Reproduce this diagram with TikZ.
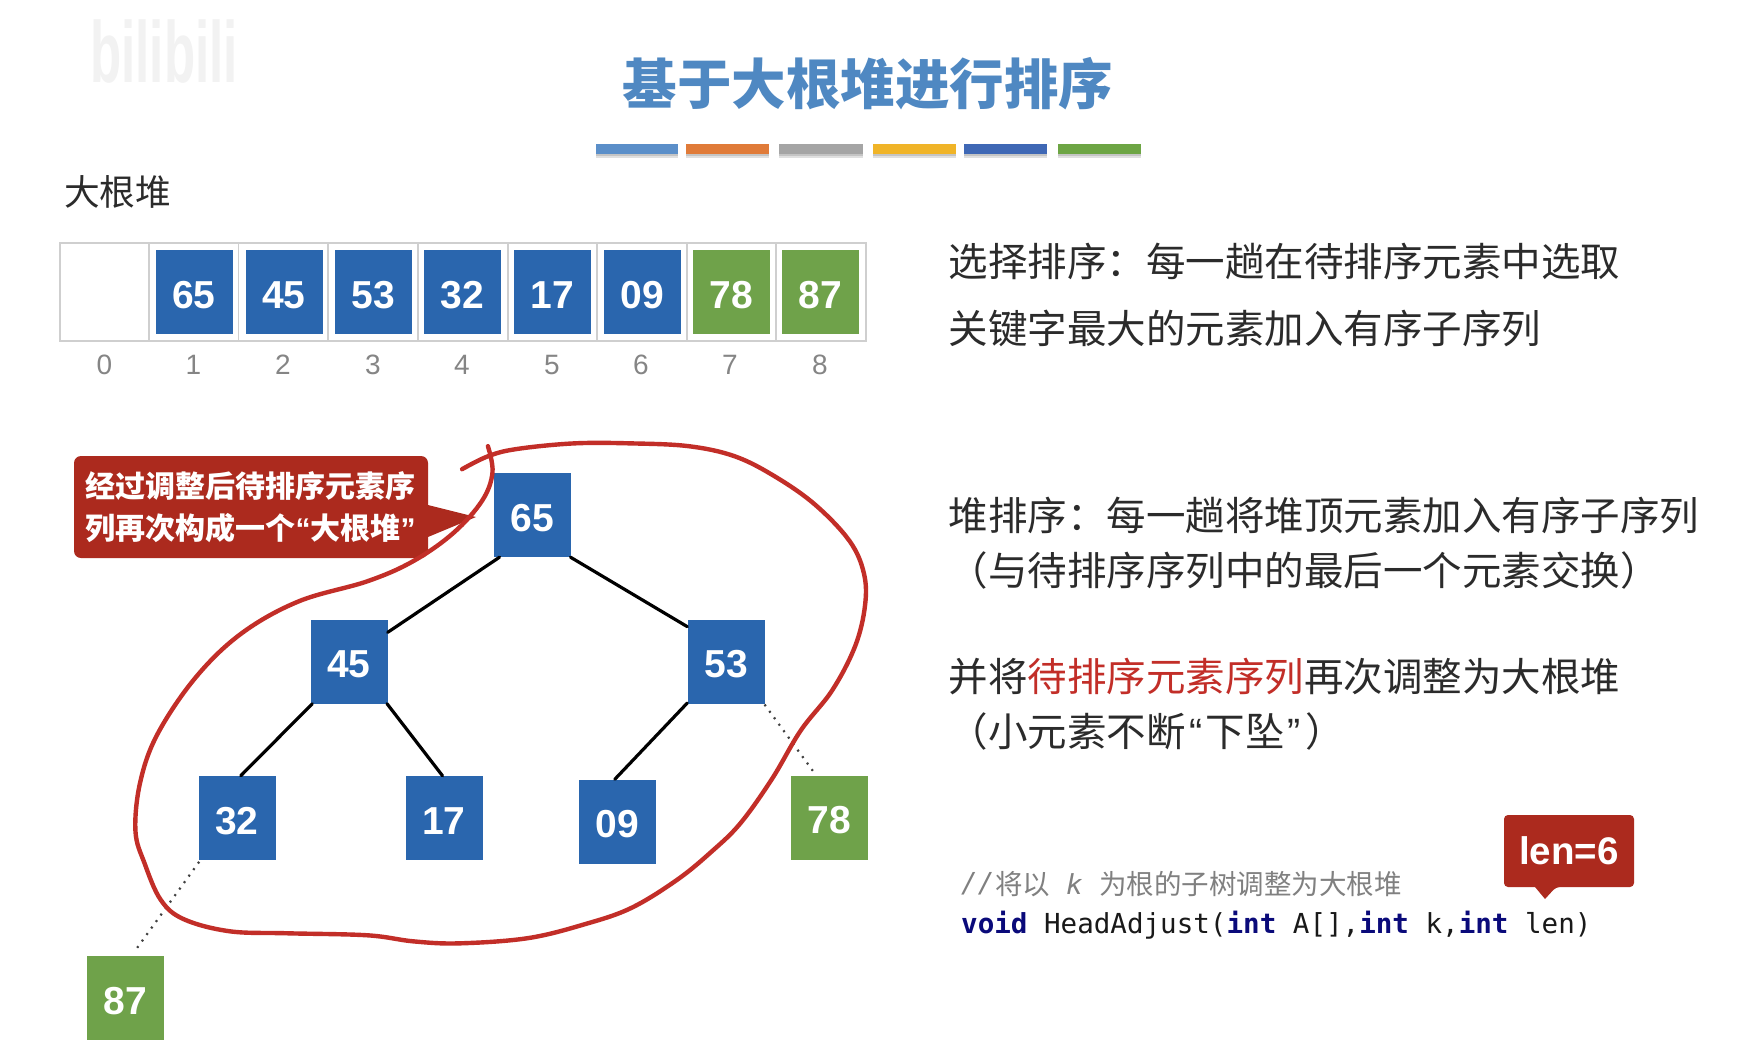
\documentclass[tikz,border=0pt]{standalone}
\usepackage{fontspec}
\setmainfont{Liberation Sans}
\newfontfamily\cjk{Noto Sans CJK SC}
\newfontfamily\lat{Liberation Sans}
\newfontfamily\codefont{DejaVu Sans Mono}
\definecolor{boxblue}{HTML}{2A66AE}
\definecolor{boxgreen}{HTML}{6FA24A}
\definecolor{calloutred}{HTML}{AC2A1E}
\definecolor{penred}{HTML}{C22E28}
\definecolor{titleblue}{HTML}{4F88C2}
\definecolor{txt}{HTML}{2B2B2B}
\definecolor{gridline}{HTML}{CFCFCF}
\definecolor{kw}{HTML}{0A0A7A}
\newcommand{\fs}[1]{\fontsize{#1}{#1}\selectfont}
\newcommand{\qL}{{\lat “}}
\newcommand{\qR}{{\lat ”}}
\newcommand{\wqL}{{\lat\kern4pt “\kern3pt}}
\newcommand{\wqR}{{\lat\kern3pt ”\kern4pt}}
\newcommand{\nm}[1]{\raisebox{-16pt}[0pt][0pt]{#1}}
\tikzset{
  x=1pt,y=-1pt,
  num/.style={font=\lat\bfseries\fs{39},text=white,minimum width=77pt,minimum height=84pt,inner sep=0pt,anchor=center},
  blue box/.style={num,fill=boxblue},
  green box/.style={num,fill=boxgreen},
  idx/.style={font=\lat\fs{28},text=black!48,inner sep=0pt},
  slot/.style={draw=gridline,line width=1.2pt,fill=white},
  say/.style={font=\cjk\fs{39.5},text=txt,anchor=west,inner sep=0pt},
  edge/.style={line width=3.2pt,black,line cap=round},
  dots/.style={line width=2.2pt,black!75,dash pattern=on 2pt off 6pt},
}
\begin{document}
\begin{tikzpicture}
\useasboundingbox (0,0) rectangle (1743,1052);
\fill[white] (0,0) rectangle (1743,1052);

% watermark
\node[font=\lat\bfseries\fs{51},text=black!5,inner sep=0pt,yscale=1.7,transform shape] (mark) at (164,52) {bilibili};

% title
\node[font=\cjk\bfseries\fs{54.5},text=titleblue,inner sep=0pt] (title) at (868,84) {基于大根堆进行排序};
\foreach \xa/\xb/\c in {596/678/5B8FC9,686/769/E07B39,779/863/A5A5A5,873/956/F0B428,964/1047/3F68B5,1058/1141/6DA544}{
  \definecolor{barc}{HTML}{\c}
  \fill[black,opacity=.12] (\xa,148) rectangle (\xb,158);
  \fill[black,opacity=.12] (\xa,146) rectangle (\xb,156);
  \fill[barc] (\xa,144) rectangle (\xb,154);
}
\node[font=\cjk\fs{35.7},text=txt,inner sep=0pt,anchor=west] (heaplabel) at (64,192) {大根堆};

% array
\foreach \xa/\xb in {60/149,149/238.5,238.5/328,328/418,418/508,508/597,597/687,687/776,776/866}
  \draw[slot] (\xa,243) rectangle (\xb,341);
\foreach \cx/\t/\s in {194/65/blue box,284/45/blue box,373.5/53/blue box,462.5/32/blue box,552.5/17/blue box,642.5/09/blue box,731.5/78/green box,820.5/87/green box}
  \node[\s] (a\t) at (\cx,292) {\nm{\t}};
\foreach \cx/\t in {104.5/0,193.5/1,283/2,373/3,462/4,552/5,641/6,730/7,820/8}
  \node[idx] (i\t) at (\cx,365) {\t};

% tree nodes
\node[blue box] (n65) at (532.5,515) {\nm{65}};
\node[blue box] (n45) at (349,661.5) {\nm{45}};
\node[blue box] (n53) at (726,661.5) {\nm{53}};
\node[blue box] (n32) at (237,818) {\nm{32}};
\node[blue box] (n17) at (444,818) {\nm{17}};
\node[blue box] (n09) at (617,821.5) {\nm{09}};
\node[green box] (n78) at (829,817.5) {\nm{78}};
\node[green box] (n87) at (125.5,998) {\nm{87}};

\draw[edge] (n65.232) -- (n45.37);
\draw[edge] (n65.-48) -- (n53.138);
\draw[edge] (n45.229) -- (n32.85);
\draw[edge] (n45.-48) -- (n17.92);
\draw[edge] (n53.227) -- (n09.93);
\draw[dots,shorten >=3pt,shorten <=1pt] (n53.-48) -- (n78.107);
\draw[dots,shorten >=8pt,shorten <=2pt] (n32.229) -- (n87.82);

% callout
\fill[calloutred,rounded corners=7pt]
  (250,456) -- (428,456) [sharp corners] -- (428,505) -- (476,517) -- (428,537)
  [rounded corners=7pt] -- (428,558) -- (74,558) -- (74,456) -- cycle;
\node[font=\cjk\bfseries\fs{30},text=white,inner sep=0pt,anchor=west] (c1) at (85.5,486) {经过调整后待排序元素序};
\node[font=\cjk\bfseries\fs{30},text=white,inner sep=0pt,anchor=west] (c2) at (85.5,528) {列再次构成一个\qL 大根堆\qR};

% hand-drawn ring
\begin{scope}[shift={(0,420)},x=.574pt,y=-.4032pt]
\draw[penred,line width=4.4pt,line cap=round,line join=round] plot[smooth,tension=.6] coordinates {
(805,122)(850,90)(900,72)(1000,58)(1100,58)(1200,65)(1280,90)(1350,140)(1420,210)(1480,300)(1505,380)(1507,460)(1490,560)(1450,670)(1395,770)(1345,890)(1290,1000)(1240,1070)(1180,1140)(1100,1210)(1020,1250)(920,1285)(800,1298)(720,1293)(640,1278)(500,1273)(400,1268)(320,1238)(280,1190)(252,1100)(236,1020)(244,900)(274,780)(340,640)(420,530)(520,450)(640,400)(720,350)(790,280)(840,200)(858,130)(850,65)};
\end{scope}

% right text
\node[say] (t1) at (948.5,261) {选择排序：每一趟在待排序元素中选取};
\node[say] (t2) at (948.5,328) {关键字最大的元素加入有序子序列};
\node[say] (t3) at (948.5,515) {堆排序：每一趟将堆顶元素加入有序子序列};
\node[say] (t4) at (948.5,570) {（与待排序序列中的最后一个元素交换）};
\node[say] (t5) at (948.5,677) {并将{\color{penred}待排序元素序列}再次调整为大根堆};
\node[say] (t6) at (948.5,731) {（小元素不断\wqL 下坠\wqR ）};

% code
\node[font=\codefont\itshape\fs{27.5},text=black!50,anchor=west,inner sep=0pt] (cm1) at (961,884) {//};
\node[font=\cjk\fs{27.5},text=black!50,anchor=west,inner sep=0pt] (cm2) at (995,884) {将以};
\node[font=\codefont\itshape\fs{27.5},text=black!50,anchor=west,inner sep=0pt] (cm3) at (1066,884) {k};
\node[font=\cjk\fs{27.5},text=black!50,anchor=west,inner sep=0pt] (cm4) at (1099,884) {为根的子树调整为大根堆};
\node[font=\codefont\fs{27.55},text=black!90,anchor=west,inner sep=0pt] (code) at (961,925)
  {\textcolor{kw}{\bfseries void} HeadAdjust(\textcolor{kw}{\bfseries int} A[],\textcolor{kw}{\bfseries int} k,\textcolor{kw}{\bfseries int} len)};

% len callout
\fill[calloutred,rounded corners=4pt]
  (1570,815) -- (1634,815) -- (1634,887) -- (1556,887) [sharp corners] -- (1545,899) -- (1535,887)
  [rounded corners=4pt] -- (1504,887) -- (1504,815) -- cycle;
\node[font=\lat\bfseries\fs{38.5},text=white,inner sep=0pt] (lenlabel) at (1569,851) {len=6};
\end{tikzpicture}
\end{document}
